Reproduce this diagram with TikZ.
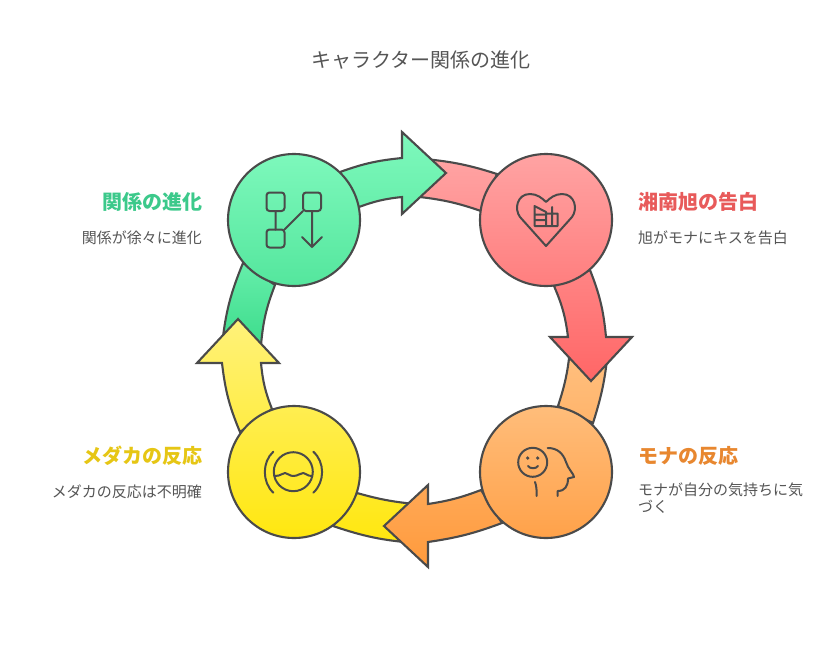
\documentclass[tikz,border=0pt]{standalone}
\usepackage{fontspec}
\setmainfont{Noto Sans CJK JP}
\definecolor{ink}{HTML}{4A4A4A}
\definecolor{txt}{HTML}{555555}
\definecolor{Ga}{HTML}{7FF9BD}\definecolor{Gb}{HTML}{3DDC8C}
\definecolor{Ra}{HTML}{FFA3A3}\definecolor{Rb}{HTML}{FF6666}
\definecolor{Oa}{HTML}{FFC080}\definecolor{Ob}{HTML}{FF9A3C}
\definecolor{Ya}{HTML}{FFF27A}\definecolor{Yb}{HTML}{FFE70F}
\definecolor{Ht}{HTML}{3CC98B}\definecolor{Hr}{HTML}{E85A5A}
\definecolor{Ho}{HTML}{E8872F}\definecolor{Hy}{HTML}{E6C614}
\tikzset{
  band/.style={draw=ink,line width=2.1pt,line join=miter},
  disc/.style={circle,draw=ink,line width=2.1pt,minimum size=132pt,inner sep=0pt},
  glyph/.style={draw=ink,line width=2pt,line cap=round,line join=round},
  title/.style={text=txt,font=\fontsize{20}{24}\selectfont,inner sep=0pt},
  head/.style={font=\fontsize{20}{24}\selectfont\bfseries,inner sep=0pt},
  desc/.style={text=txt,font=\fontsize{15}{17}\selectfont,inner sep=0pt},
}
\begin{document}
\begin{tikzpicture}[x=1pt,y=-1pt]
\useasboundingbox (0,0) rectangle (840,651);
\fill[white] (0,0) rectangle (840,651);
% tails
\path[band,top color=Ga!62!Gb,bottom color=Gb] (243,263) to[bend right=8] (222,345) -- (261,345) to[bend left=8] (275,285) -- cycle;
\path[band,top color=Ra,bottom color=Ra!77!Rb] (425,159) to[bend left=6] (497,174) -- (481,211) to[bend right=6] (420,197) -- cycle;
\path[band,top color=Oa,bottom color=Oa!69!Ob] (570,350) to[bend left=6] (558,406) -- (593,423) to[bend right=6] (608,350) -- cycle;
\path[band,top color=Ya!22!Yb,bottom color=Yb] (357,493) to[bend right=5] (415,504) -- (415,543) to[bend left=7] (333,526) -- cycle;
% heads
\path[band,top color=Ga,bottom color=Ga!62!Gb] (340,172) to[bend left=7] (402,158) -- (402,132) -- (446,173) -- (402,214) -- (402,197) to[bend right=7] (359,207) -- cycle;
\path[band,top color=Ra!50!Rb,bottom color=Rb] (590,270) to[bend left=8] (606,337) -- (632,337) -- (591,381) -- (550,337) -- (568,337) to[bend right=8] (554,286) -- cycle;
\path[band,top color=Oa!39!Ob,bottom color=Ob] (481,490) to[bend left=6] (428,504) -- (428,485) -- (384,526) -- (428,567) -- (428,542) to[bend right=6] (502,523) -- cycle;
\path[band,top color=Ya,bottom color=Ya!49!Yb] (272,409) to[bend left=8] (261,363) -- (279,363) -- (238,319) -- (197,363) -- (222,363) to[bend right=8] (240,432) -- cycle;
% discs
\node[disc,top color=Ga!97!Gb,bottom color=Ga!35!Gb] (cg) at (294,220) {};
\node[disc,top color=Ra,bottom color=Ra!40!Rb] (cr) at (546,220) {};
\node[disc,top color=Oa!92!Ob,bottom color=Oa!20!Ob] (co) at (546,472) {};
\node[disc,top color=Ya!62!Yb,bottom color=Yb] (cy) at (294,472) {};
% flow icon
\draw[glyph,rounded corners=3pt] (266.5,192.5) rectangle (284.5,211);
\draw[glyph,rounded corners=3pt] (303,192.5) rectangle (321,211);
\draw[glyph,rounded corners=3pt] (266.5,229.5) rectangle (284.5,247.5);
\draw[glyph] (275.5,211) -- (275.5,229.5) (303,211) -- (284.5,229.5) (312,211) -- (312,247) (302,237) -- (312,247) -- (322,237);
% heart icon
\draw[glyph] (546,246) -- (520,217) .. controls (514,209) and (517,194) .. (530,194) .. controls (537,194) and (542,198) .. (546,202) .. controls (550,198) and (555,194) .. (562,194) .. controls (575,194) and (578,209) .. (572,217) -- cycle;
\draw[glyph] (534.5,226) -- (534.5,206) -- (546,212) -- (546,226) -- cycle (534.5,214.5) -- (546,214.5) (534.5,220) -- (546,220) (546,226) -- (557.5,226) -- (557.5,213.5) -- (546,213.5) (552,207) -- (552,226);
% face icon
\draw[glyph] (532.7,462.3) circle[radius=14.5];
\fill[ink] (527.7,458) circle[radius=1.8] (537.7,458) circle[radius=1.8];
\draw[glyph] (528,466) .. controls (530,469) and (536,469) .. (538,466);
\draw[glyph] (535,482) .. controls (536.5,486) and (536.7,490) .. (536.7,496);
\draw[glyph] (547.7,448) .. controls (557,448) and (563,453) .. (566,462) .. controls (568,469) and (574,474) .. (574,477) -- (568,478.5) .. controls (568,486) and (565,491) .. (557.7,491) -- (557.7,496);
% water icon
\draw[glyph] (293.3,471.7) circle[radius=19.5];
\draw[glyph] (275,476) .. controls (281,476) and (282,473) .. (285,473) .. controls (288,473) and (289,476) .. (293.3,476) .. controls (298,476) and (300,473) .. (303.3,473) .. controls (306,473) and (307,476) .. (311.7,476);
\draw[glyph] (273.3,451.7) .. controls (262,462) and (262,482) .. (273.3,492.7);
\draw[glyph] (313.3,451.7) .. controls (325,462) and (325,482) .. (313.3,492.7);
% texts
\node[title] (ttl) at (421,60) {キャラクター関係の進化};
\node[head,text=Ht,anchor=east] (hg) at (203,202) {関係の進化};
\node[desc,anchor=east] (dg) at (202,238) {関係が徐々に進化};
\node[head,text=Hr,anchor=west] (hr) at (638,202) {湘南旭の告白};
\node[desc,anchor=west] (dr) at (638,238) {旭がモナにキスを告白};
\node[head,text=Ho,anchor=west] (ho) at (638,456) {モナの反応};
\node[desc,anchor=west] (do1) at (638,490) {モナが自分の気持ちに気};
\node[desc,anchor=west] (do2) at (638,507) {づく};
\node[head,text=Hy,anchor=east] (hy) at (203,456) {メダカの反応};
\node[desc,anchor=east] (dy) at (202,492) {メダカの反応は不明確};
\end{tikzpicture}
\end{document}
